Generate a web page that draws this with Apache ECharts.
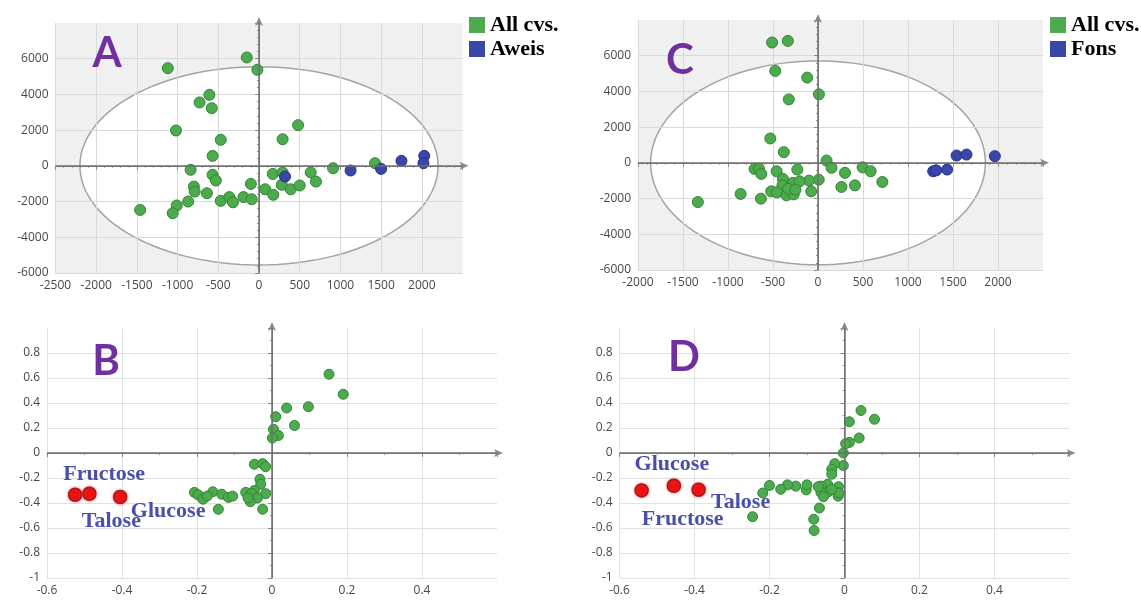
<!DOCTYPE html>
<html>
<head>
<meta charset="utf-8">
<script src="https://cdn.jsdelivr.net/npm/echarts@6/dist/echarts.min.js"></script>
<style>
  html, body { margin: 0; padding: 0; background: #fff; }
  #main { width: 1141px; height: 600px; }
</style>
</head>
<body>
<div id="main"></div>
<script>
// score plots (PC1 / PC2)
let aGreen = [[-1120,5470],[-150,6070],[-20,5380],[-610,3980],[-730,3550],[-580,3230],[-1020,1980],[480,2280],[290,1490],[-470,1460],
    [-570,560],[-840,-220],[-570,-500],[-530,-820],[-100,-1010],[-800,-1160],[-790,-1440],[-640,-1530],[-870,-2000],[-1010,-2220],
    [-1060,-2650],[-1460,-2470],[-470,-1960],[-365,-1750],[-320,-2040],[-190,-1750],[-90,-1870],[170,-450],[290,-370],[75,-1310],
    [175,-1620],[280,-1060],[390,-1310],[500,-1100],[635,-370],[700,-880],[910,-130],[1425,150]];
let aBlue = [[320,-600],[1125,-260],[1500,-170],[1750,280],[2030,560],[2020,150]];

let cGreen = [[-510,6740],[-335,6830],[-475,5150],[-120,4775],[10,3840],[-325,3555],[-530,1365],[-380,600],[95,130],[150,-280],
    [300,-560],[495,-250],[585,-470],[715,-1070],[410,-1260],[260,-1350],[8,-940],[-100,-995],[-75,-1595],[-230,-375],
    [-460,-470],[-705,-340],[-655,-340],[-630,-620],[-390,-900],[-280,-1125],[-205,-1035],[-395,-1260],[-520,-1595],[-455,-1650],
    [-350,-1820],[-270,-1765],[-860,-1740],[-635,-2005],[-1335,-2195],[-330,-1450],[-250,-1500]];
let cBlue = [[1280,-470],[1315,-420],[1435,-375],[1540,410],[1650,465],[1965,375]];

// Hotelling ellipse semi axes
let aEllipse = [0, 0, 2200, 5550];
let cEllipse = [0, 0, 1860, 5710];

// loading plots
let bGreen = [[0.152,0.63],[0.19,0.47],[0.097,0.37],[0.039,0.36],[0.01,0.29],[0.06,0.22],[0.004,0.19],[0.017,0.14],[0.001,0.12],
    [-0.047,-0.09],[-0.025,-0.085],[-0.017,-0.11],[-0.032,-0.21],[-0.03,-0.25],[-0.047,-0.3],[-0.07,-0.315],[-0.054,-0.325],
    [-0.017,-0.325],[-0.039,-0.36],[-0.058,-0.39],[-0.064,-0.36],[-0.025,-0.45],[-0.143,-0.45],[-0.207,-0.315],[-0.197,-0.335],
    [-0.184,-0.37],[-0.158,-0.31],[-0.134,-0.33],[-0.116,-0.355],[-0.105,-0.345],[-0.173,-0.345]];
let bRed = [[-0.525,-0.334],[-0.487,-0.326],[-0.405,-0.352]];
let bRedNames = ['Fructose', 'Talose', 'Glucose'];

let dGreen = [[0.044,0.34],[0.08,0.27],[0.013,0.25],[0.039,0.12],[0.013,0.085],[0.003,0.075],[-0.003,0],[-0.003,-0.1],
    [-0.026,-0.085],[-0.034,-0.13],[-0.034,-0.17],[-0.016,-0.27],[-0.045,-0.25],[-0.063,-0.265],[-0.043,-0.31],[-0.063,-0.315],
    [-0.056,-0.35],[-0.017,-0.345],[-0.015,-0.32],[-0.067,-0.44],[-0.082,-0.53],[-0.081,-0.62],[-0.102,-0.295],[-0.1,-0.255],
    [-0.13,-0.265],[-0.152,-0.255],[-0.17,-0.29],[-0.2,-0.26],[-0.218,-0.32],[-0.245,-0.51],[-0.07,-0.27],[-0.034,-0.29]];
let dRed = [[-0.541,-0.299],[-0.455,-0.262],[-0.389,-0.294]];
let dRedNames = ['Fructose', 'Glucose', 'Talose'];

let panelLetters = ['A', 'B', 'C', 'D'];

let green = '#4dab4d', greenEdge = '#2f8636';
let blue = '#3b47a8', blueEdge = '#27308a';
let red = '#f01010', redEdge = '#a81818';
let nameColor = '#4a4fa8';

function valueAxis(gi, min, max, interval, minorSplit, gridColor) {
    return {
        type: 'value', gridIndex: gi, min: min, max: max, interval: interval,
        axisLine: { show: true, lineStyle: { color: '#8a8a8a', width: 1 }, symbol: ['none', 'arrow'], symbolSize: [6, 9], symbolOffset: [0, 6] },
        axisTick: { show: true, length: 4, lineStyle: { color: '#8a8a8a' } },
        minorTick: { show: true, splitNumber: minorSplit, length: 2, lineStyle: { color: '#9a9a9a' } },
        splitLine: { show: true, showMaxLine: false, lineStyle: { color: gridColor, width: 1 } },
        axisLabel: {
            color: '#484848', fontSize: 12, fontFamily: 'Open Sans', margin: 7,
            showMaxLabel: false,
            formatter: function (v) { return String(v); }
        }
    };
}

// ellipse + grey plot background, drawn under the grid lines
function ellipseSeries(xi, yi, e) {
    return {
        type: 'custom', xAxisIndex: xi, yAxisIndex: yi, z: -1, silent: true,
        data: [e],
        renderItem: function (params, api) {
            let cx = api.value(0), cy = api.value(1), rx = api.value(2), ry = api.value(3);
            let pts = [];
            for (let i = 0; i <= 120; i++) {
                let t = i / 120 * Math.PI * 2;
                pts.push(api.coord([cx + rx * Math.cos(t), cy + ry * Math.sin(t)]));
            }
            let cs = params.coordSys;
            return {
                type: 'group',
                children: [
                    { type: 'rect', shape: { x: cs.x, y: cs.y, width: cs.width, height: cs.height }, style: { fill: '#f0f0f0' } },
                    { type: 'polygon', shape: { points: pts }, style: { fill: '#ffffff', stroke: '#a3a3a3', lineWidth: 1.5 } }
                ]
            };
        }
    };
}

function zeroLines(xi, yi) {
    return {
        type: 'line', xAxisIndex: xi, yAxisIndex: yi, data: [], z: 1, silent: true,
        markLine: {
            silent: true, symbol: ['none', 'none'], label: { show: false },
            lineStyle: { color: '#6e6e6e', width: 1.5, type: 'solid' },
            data: [{ xAxis: 0 }, { yAxis: 0 }]
        }
    };
}

function dots(name, xi, yi, data, fill, edge, size) {
    return {
        type: 'scatter', name: name, xAxisIndex: xi, yAxisIndex: yi, data: data,
        symbolSize: size,
        itemStyle: { color: fill, borderColor: edge, borderWidth: 1, opacity: 1 }
    };
}

function namedDots(name, xi, yi, data, names, offsets) {
    let items = data.map(function (p, i) {
        return {
            value: p,
            label: { show: true, formatter: names[i], position: 'inside', offset: offsets[i] }
        };
    });
    let s = dots(name, xi, yi, items, red, redEdge, 13);
    s.itemStyle.borderWidth = 1.5;
    s.itemStyle.shadowColor = 'rgba(220,60,60,0.6)';
    s.itemStyle.shadowBlur = 3;
    s.label = { color: nameColor, fontFamily: 'Liberation Serif', fontWeight: 'bold', fontSize: 22 };
    s.z = 3;
    return s;
}

let bOffsets = [[29, -20], [22, 28], [48, 14]];
let dOffsets = [[41, 29], [-2, -21], [42, 13]];

let legendText = { color: '#000', fontFamily: 'Liberation Serif', fontWeight: 'bold', fontSize: 22 };

let option = {
    animation: false,
    backgroundColor: '#ffffff',
    grid: [
        { left: 55.5, top: 23, width: 407, height: 250 },   // A
        { left: 47, top: 328, width: 450, height: 250 },    // B
        { left: 638, top: 20, width: 405, height: 250 },    // C
        { left: 619.5, top: 328, width: 450, height: 250 }  // D
    ],
    xAxis: [
        valueAxis(0, -2500, 2500, 500, 5, '#d9d9d9'),
        valueAxis(1, -0.6, 0.6, 0.2, 2, '#e2e2e2'),
        valueAxis(2, -2000, 2500, 500, 5, '#d9d9d9'),
        valueAxis(3, -0.6, 0.6, 0.2, 2, '#e2e2e2')
    ],
    yAxis: [
        valueAxis(0, -6000, 8000, 2000, 5, '#d9d9d9'),
        valueAxis(1, -1, 1, 0.2, 2, '#e2e2e2'),
        valueAxis(2, -6000, 8000, 2000, 5, '#d9d9d9'),
        valueAxis(3, -1, 1, 0.2, 2, '#e2e2e2')
    ],
    legend: [
        {
            data: ['All cvs.', 'Aweis'], orient: 'vertical', left: 469, top: 14, padding: 0,
            itemGap: 2, itemWidth: 16, itemHeight: 16, icon: 'rect',
            itemStyle: { borderWidth: 0 }, textStyle: legendText, selectedMode: false
        },
        {
            data: ['All cvs.', 'Fons'], orient: 'vertical', left: 1050, top: 14, padding: 0,
            itemGap: 2, itemWidth: 16, itemHeight: 16, icon: 'rect',
            itemStyle: { borderWidth: 0 }, textStyle: legendText, selectedMode: false
        }
    ],
    graphic: panelLetters.map(function (t, i) {
        let pos = [[107, 53], [106, 361], [680, 60], [684, 357]][i];
        return {
            type: 'text', x: pos[0], y: pos[1], z: 10,
            style: { text: t, fill: '#7030a0', font: 'bold 42px Lato', textAlign: 'center', textVerticalAlign: 'middle' }
        };
    }),
    series: [
        ellipseSeries(0, 0, aEllipse),
        zeroLines(0, 0),
        dots('All cvs.', 0, 0, aGreen, green, greenEdge, 11),
        dots('Aweis', 0, 0, aBlue, blue, blueEdge, 11),

        ellipseSeries(2, 2, cEllipse),
        zeroLines(2, 2),
        dots('All cvs.', 2, 2, cGreen, green, greenEdge, 11),
        dots('Fons', 2, 2, cBlue, blue, blueEdge, 11),

        zeroLines(1, 1),
        dots('B loadings', 1, 1, bGreen, green, greenEdge, 10),
        namedDots('B sugars', 1, 1, bRed, bRedNames, bOffsets),

        zeroLines(3, 3),
        dots('D loadings', 3, 3, dGreen, green, greenEdge, 10),
        namedDots('D sugars', 3, 3, dRed, dRedNames, dOffsets)
    ]
};

let myChart = echarts.init(document.getElementById('main'));
myChart.setOption(option);
</script>
</body>
</html>
